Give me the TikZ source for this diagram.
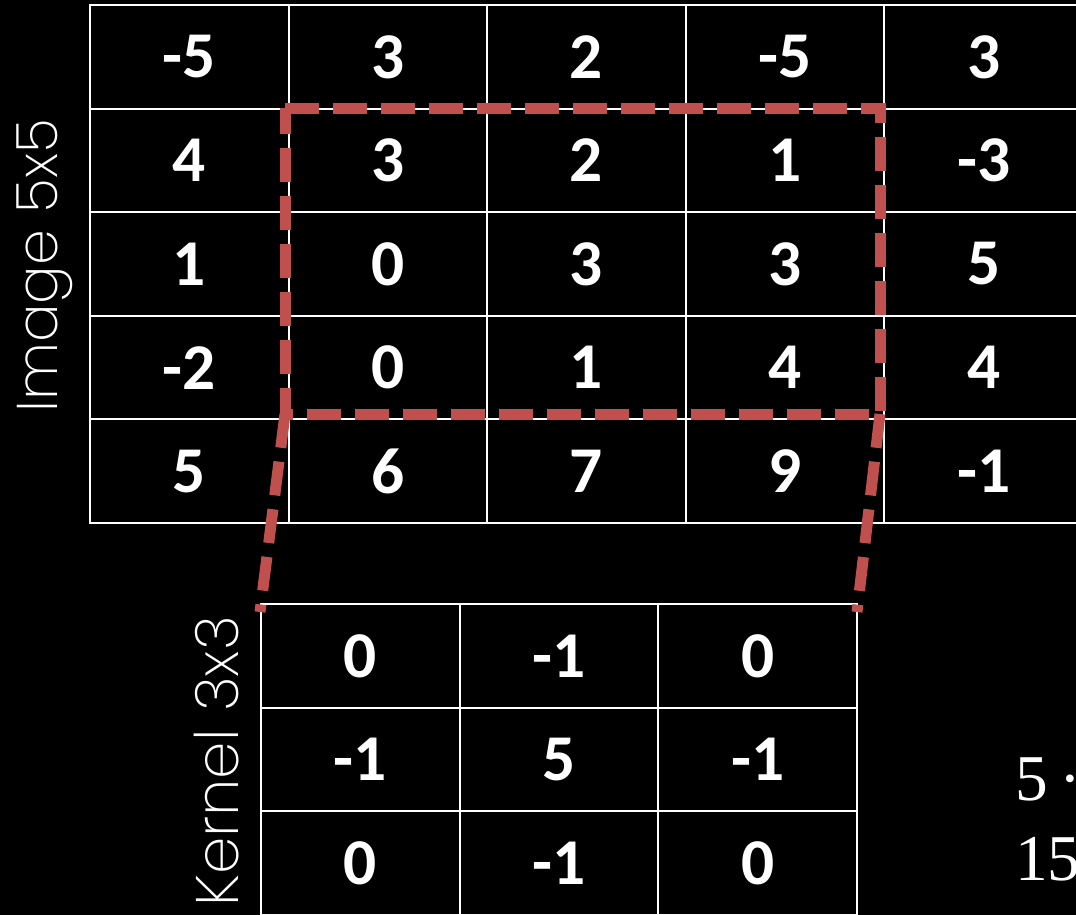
\documentclass[tikz,border=0pt]{standalone}
\usepackage{fontspec}
\setmainfont{Carlito}
\newfontfamily\thinfont{Poppins ExtraLight}
\newfontfamily\seriffont{Liberation Serif}
\begin{document}
\begin{tikzpicture}[x=0.75pt,y=-0.75pt,
  cell/.style={draw=white,line width=1.5pt,minimum width=148.9pt,minimum height=77.7pt,inner sep=0pt,text=white,font=\fontsize{49}{50}\selectfont\bfseries},
  sel/.style={draw={rgb,255:red,192;green,80;blue,77},line width=8.25pt,dash pattern=on 25.5pt off 10.5pt},
  lbl/.style={rotate=90,anchor=base west,inner sep=0pt,text=white},
  res/.style={anchor=base west,inner sep=0pt,text=white,font=\seriffont\fontsize{49}{50}\selectfont}]
\fill[black] (0,0) rectangle (1076,915);
\useasboundingbox (0,0) rectangle (1076,915);
% image grid
\foreach \v [count=\i from 0] in {-5,3,2,-5,3, 4,3,2,1,-3, 1,0,3,3,5, -2,0,1,4,4, 5,6,7,9,-1}{
  \pgfmathtruncatemacro\c{mod(\i,5)}
  \pgfmathtruncatemacro\r{div(\i,5)}
  \node[cell] (img-\r-\c) at ({90+198.6*(\c+0.5)},{5+103.6*(\r+0.5)}) {\v};
}
% kernel grid
\foreach \v [count=\i from 0] in {0,-1,0, -1,5,-1, 0,-1,0}{
  \pgfmathtruncatemacro\c{mod(\i,3)}
  \pgfmathtruncatemacro\r{div(\i,3)}
  \node[cell] (ker-\r-\c) at ({261+198.7*(\c+0.5)},{604+103.7*(\r+0.5)}) {\v};
}
% labels
\node[lbl,font=\thinfont\fontsize{43}{44}\selectfont] (imglabel) at (57,413) {Image 5x5};
\node[lbl,font=\thinfont\fontsize{45}{46}\selectfont] (kerlabel) at (238,907) {Kernel 3x3};
\node[res] (res1) at (1015,800) {5\hspace{9pt}·};
\node[res] (res2) at (1015,880) {15};
% selection
\coordinate (tl) at (285,108);
\coordinate (tr) at (880,108);
\coordinate (br) at (880,414);
\coordinate (bl) at (285,414);
\coordinate (kl) at (260,612);
\coordinate (kr) at (857,612);
\draw[sel] (tl) -- (tr) -- (br) -- (bl) -- cycle;
\draw[sel] (bl) -- (kl);
\draw[sel] (br) -- (kr);
\end{tikzpicture}
\end{document}
